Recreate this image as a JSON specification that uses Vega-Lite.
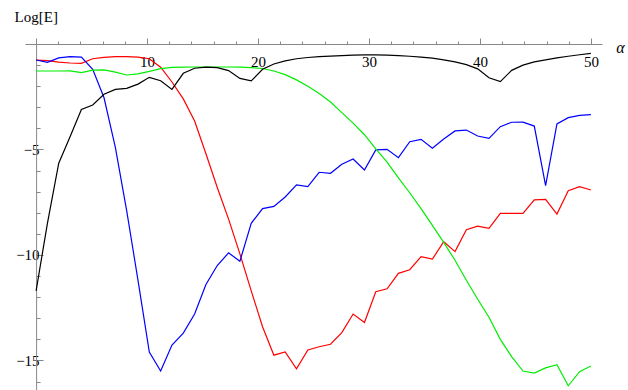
{
  "$schema": "https://vega.github.io/schema/vega-lite/v6.json",
  "autosize": {"type": "none"},
  "padding": {"left": 25, "top": 44, "right": 26, "bottom": 0},
  "width": 577,
  "height": 346,
  "background": "white",
  "config": {"view": {"stroke": null}},
  "data": {"values": [
    {"a": 0, "Red": -0.76, "Blue": -0.76, "Green": -1.28, "Black": -11.7},
    {"a": 1.02, "Red": -0.79, "Blue": -0.87, "Green": -1.28, "Black": -8.5},
    {"a": 2.041, "Red": -0.86, "Blue": -0.66, "Green": -1.28, "Black": -5.65},
    {"a": 3.061, "Red": -0.9, "Blue": -0.6, "Green": -1.27, "Black": -4.4},
    {"a": 4.082, "Red": -0.92, "Blue": -0.62, "Green": -1.36, "Black": -3.1},
    {"a": 5.102, "Red": -0.7, "Blue": -1.2, "Green": -1.24, "Black": -2.89},
    {"a": 6.122, "Red": -0.63, "Blue": -2.55, "Green": -1.23, "Black": -2.38},
    {"a": 7.143, "Red": -0.6, "Blue": -4.9, "Green": -1.33, "Black": -2.15},
    {"a": 8.163, "Red": -0.6, "Blue": -7.9, "Green": -1.47, "Black": -2.1},
    {"a": 9.184, "Red": -0.62, "Blue": -11.2, "Green": -1.42, "Black": -1.9},
    {"a": 10.204, "Red": -0.7, "Blue": -14.6, "Green": -1.3, "Black": -1.58},
    {"a": 11.224, "Red": -1.1, "Blue": -15.5, "Green": -1.17, "Black": -1.74},
    {"a": 12.245, "Red": -1.8, "Blue": -14.27, "Green": -1.11, "Black": -2.15},
    {"a": 13.265, "Red": -2.6, "Blue": -13.7, "Green": -1.1, "Black": -1.39},
    {"a": 14.286, "Red": -3.65, "Blue": -12.8, "Green": -1.09, "Black": -1.15},
    {"a": 15.306, "Red": -5.2, "Blue": -11.4, "Green": -1.09, "Black": -1.1},
    {"a": 16.327, "Red": -6.8, "Blue": -10.5, "Green": -1.09, "Black": -1.12},
    {"a": 17.347, "Red": -8.3, "Blue": -9.9, "Green": -1.09, "Black": -1.26},
    {"a": 18.367, "Red": -9.95, "Blue": -10.3, "Green": -1.1, "Black": -1.63},
    {"a": 19.388, "Red": -11.7, "Blue": -8.5, "Green": -1.12, "Black": -1.75},
    {"a": 20.408, "Red": -13.4, "Blue": -7.8, "Green": -1.16, "Black": -1.2},
    {"a": 21.429, "Red": -14.75, "Blue": -7.7, "Green": -1.28, "Black": -0.95},
    {"a": 22.449, "Red": -14.6, "Blue": -7.25, "Green": -1.45, "Black": -0.8},
    {"a": 23.469, "Red": -15.4, "Blue": -6.68, "Green": -1.7, "Black": -0.7},
    {"a": 24.49, "Red": -14.5, "Blue": -6.76, "Green": -2.0, "Black": -0.64},
    {"a": 25.51, "Red": -14.35, "Blue": -6.08, "Green": -2.35, "Black": -0.6},
    {"a": 26.531, "Red": -14.23, "Blue": -6.13, "Green": -2.75, "Black": -0.57},
    {"a": 27.551, "Red": -13.68, "Blue": -5.7, "Green": -3.25, "Black": -0.55},
    {"a": 28.571, "Red": -12.8, "Blue": -5.45, "Green": -3.75, "Black": -0.53},
    {"a": 29.592, "Red": -13.2, "Blue": -5.97, "Green": -4.3, "Black": -0.52},
    {"a": 30.612, "Red": -11.74, "Blue": -5.02, "Green": -4.97, "Black": -0.52},
    {"a": 31.633, "Red": -11.6, "Blue": -4.99, "Green": -5.6, "Black": -0.53},
    {"a": 32.653, "Red": -10.87, "Blue": -5.39, "Green": -6.35, "Black": -0.55},
    {"a": 33.673, "Red": -10.7, "Blue": -4.63, "Green": -7.05, "Black": -0.58},
    {"a": 34.694, "Red": -10.08, "Blue": -4.52, "Green": -7.8, "Black": -0.62},
    {"a": 35.714, "Red": -10.2, "Blue": -4.94, "Green": -8.6, "Black": -0.67},
    {"a": 36.735, "Red": -9.37, "Blue": -4.5, "Green": -9.4, "Black": -0.75},
    {"a": 37.755, "Red": -9.84, "Blue": -4.12, "Green": -10.25, "Black": -0.85},
    {"a": 38.776, "Red": -8.8, "Blue": -4.08, "Green": -11.2, "Black": -0.98},
    {"a": 39.796, "Red": -8.63, "Blue": -4.36, "Green": -12.1, "Black": -1.18},
    {"a": 40.816, "Red": -8.74, "Blue": -4.47, "Green": -12.95, "Black": -1.6},
    {"a": 41.837, "Red": -8.03, "Blue": -3.92, "Green": -14.0, "Black": -1.78},
    {"a": 42.857, "Red": -8.03, "Blue": -3.71, "Green": -14.82, "Black": -1.25},
    {"a": 43.878, "Red": -8.03, "Blue": -3.7, "Green": -15.5, "Black": -1.0},
    {"a": 44.898, "Red": -7.39, "Blue": -3.89, "Green": -15.6, "Black": -0.85},
    {"a": 45.918, "Red": -7.36, "Blue": -6.71, "Green": -15.35, "Black": -0.75},
    {"a": 46.939, "Red": -8.06, "Blue": -3.79, "Green": -15.2, "Black": -0.66},
    {"a": 47.959, "Red": -6.95, "Blue": -3.49, "Green": -16.2, "Black": -0.58},
    {"a": 48.98, "Red": -6.76, "Blue": -3.38, "Green": -15.53, "Black": -0.51},
    {"a": 50, "Red": -6.92, "Blue": -3.35, "Green": -15.26, "Black": -0.44}
  ]},
  "transform": [{"fold": ["Red", "Blue", "Green", "Black"], "as": ["series", "v"]}],
  "mark": {"type": "line", "strokeWidth": 1.2, "clip": true},
  "encoding": {
    "x": {
      "field": "a", "type": "quantitative",
      "scale": {"domain": [-1, 51], "nice": false, "zero": false},
      "axis": {
        "orient": "top", "title": "α",
        "values": [0,2,4,6,8,10,12,14,16,18,20,22,24,26,28,30,32,34,36,38,40,42,44,46,48,50],
        "labelExpr": "datum.value % 10 === 0 && datum.value > 0 ? datum.label : ''",
        "grid": false,
        "domainColor": "#888888", "tickColor": "#888888",
        "tickSize": {"condition": {"test": "datum.value % 10 === 0", "value": 6}, "value": 3},
        "labelFont": "Liberation Serif", "labelFontSize": 15, "labelColor": "black",
        "labelBaseline": "top", "labelPadding": -16, "labelFlush": false, "labelOverlap": false,
        "titleFont": "Liberation Serif", "titleFontSize": 16, "titleFontStyle": "italic", "titleFontWeight": "normal", "titleColor": "black",
        "titleX": 595, "titleY": 3, "titleAlign": "center", "titleBaseline": "middle", "titleAngle": 0
      }
    },
    "y": {
      "field": "v", "type": "quantitative",
      "scale": {"domain": [-16.4, 0], "nice": false, "zero": false},
      "axis": {
        "orient": "left", "offset": -11.1, "title": "Log[E]",
        "values": [-16,-15,-14,-13,-12,-11,-10,-9,-8,-7,-6,-5,-4,-3,-2,-1],
        "labelExpr": "datum.value % 5 === 0 ? datum.label : ''",
        "grid": false,
        "domainColor": "#888888", "tickColor": "#888888",
        "tickSize": {"condition": {"test": "datum.value % 5 === 0", "value": -7}, "value": -4},
        "labelFont": "Liberation Serif", "labelFontSize": 15, "labelColor": "black",
        "labelPadding": 4, "labelOverlap": false, "labelFlush": false,
        "titleFont": "Liberation Serif", "titleFontSize": 15, "titleFontWeight": "normal", "titleColor": "black",
        "titleAngle": 0, "titleX": -22, "titleY": -23, "titleAlign": "left", "titleBaseline": "alphabetic"
      }
    },
    "color": {
      "field": "series", "type": "nominal",
      "scale": {"domain": ["Red", "Blue", "Green", "Black"], "range": ["#ff0000", "#0000ff", "#00ee00", "#000000"]},
      "legend": null
    }
  }
}
